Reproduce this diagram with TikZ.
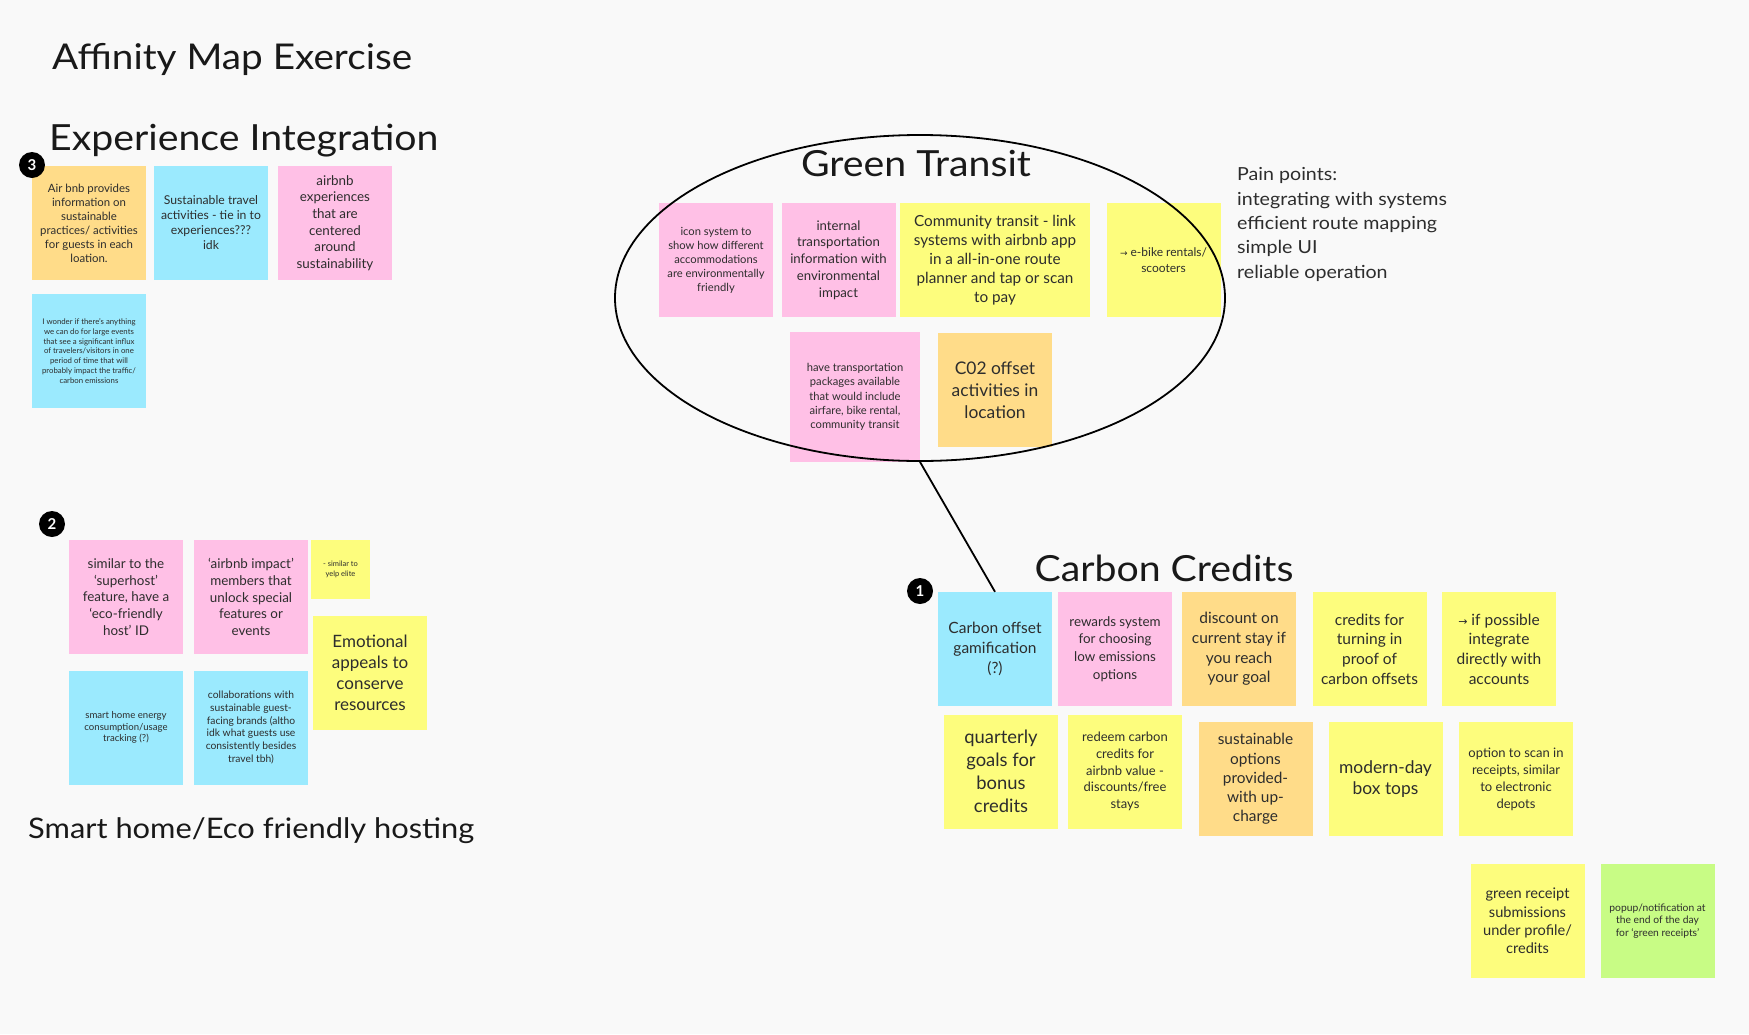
\documentclass[tikz,border=0pt]{standalone}
\usepackage{fontspec}
\setmainfont{Lato}
\newfontfamily\headfont{Lato}[FakeStretch=1.09]
\newfontfamily\arrowfont{DejaVu Sans}
\usetikzlibrary{shapes.geometric}

\definecolor{canvas}{RGB}{249,249,249}
\definecolor{stickyorange}{RGB}{255,220,137}
\definecolor{stickycyan}{RGB}{155,234,254}
\definecolor{stickypink}{RGB}{255,192,230}
\definecolor{stickyyellow}{RGB}{253,253,125}
\definecolor{stickygreen}{RGB}{200,252,133}
\definecolor{inktext}{RGB}{45,45,45}
\definecolor{titletext}{RGB}{25,25,25}

\newcommand{\notesize}[2]{\fontsize{#1}{#2}\selectfont}

\begin{document}
\begin{tikzpicture}[x=1pt, y=-1pt,
	note/.style={minimum width=114pt, minimum height=114pt, inner sep=1pt, align=center, text=inktext},
	orange note/.style={note, fill=stickyorange},
	cyan note/.style={note, fill=stickycyan},
	pink note/.style={note, fill=stickypink},
	yellow note/.style={note, fill=stickyyellow},
	green note/.style={note, fill=stickygreen},
	heading/.style={text=titletext, inner sep=0pt},
	badge/.style={circle, fill=black, text=white, minimum size=26pt, inner sep=0pt, font=\bfseries\notesize{15}{15}}]

	\fill[canvas] (0,0) rectangle (1749,1034);

	% titles
	\node[heading, anchor=base west, font=\headfont\notesize{35.5}{40}] (maptitle) at (52,69) {Affinity Map Exercise};
	\node[heading, anchor=base west, font=\headfont\notesize{36}{42}] (expTitle) at (49,150) {Experience Integration};
	\node[heading, anchor=base, font=\headfont\notesize{36}{42}] (transitTitle) at (916,176) {Green Transit};
	\node[heading, anchor=base, font=\headfont\notesize{36}{42}] (creditTitle) at (1164,581) {Carbon Credits};
	\node[heading, anchor=base west, font=\headfont\notesize{28.3}{34}] (hostTitle) at (28,838) {Smart home/Eco friendly hosting};
	\node[heading, anchor=north west, align=left, text=inktext, font=\headfont\notesize{18}{24.3}] (pain) at (1237,167.5)
		{Pain points:\\integrating with systems\\efficient route mapping\\simple UI\\reliable operation};

	% Experience Integration
	\node[orange note, font=\notesize{11.4}{14}] (airInfo) at (89,223) {Air bnb provides\\information on\\sustainable\\practices/ activities\\for guests in each\\loation.};
	\node[cyan note, font=\notesize{12.2}{15}] (travelAct) at (211,223) {Sustainable travel\\activities - tie in to\\experiences???\\idk};
	\node[pink note, font=\notesize{13.4}{16.7}] (airExp) at (335,223) {airbnb\\experiences\\that are\\centered\\around\\sustainability};
	\node[cyan note, font=\notesize{7.8}{9.7}] (wonder) at (89,351) {I wonder if there's anything\\we can do for large events\\that see a significant influx\\of travelers/visitors in one\\period of time that will\\probably impact the traffic/\\carbon emissions};

	% Smart home / eco friendly hosting
	\node[pink note, font=\notesize{13.4}{16.8}] (superhost) at (126,597) {similar to the\\`superhost'\\feature, have a\\`eco-friendly\\host' ID};
	\node[pink note, font=\notesize{13.4}{16.8}] (impact) at (251,597) {`airbnb impact'\\members that\\unlock special\\features or\\events};
	\node[yellow note, minimum width=59pt, minimum height=59pt, font=\notesize{7.5}{10}] (yelp) at (340.5,569.5) {- similar to\\yelp elite};
	\node[yellow note, font=\notesize{17}{21}] (appeals) at (370,672.5) {Emotional\\appeals to\\conserve\\resources};
	\node[cyan note, font=\notesize{9.6}{11.7}] (energy) at (126,727.5) {smart home energy\\consumption/usage\\tracking (?)};
	\node[cyan note, font=\notesize{10.3}{12.7}] (collab) at (251,727.5) {collaborations with\\sustainable guest-\\facing brands (altho\\idk what guests use\\consistently besides\\travel tbh)};

	% Green Transit
	\node[pink note, font=\notesize{11.2}{14}] (icons) at (716,260) {icon system to\\show how different\\accommodations\\are environmentally\\friendly};
	\node[pink note, font=\notesize{13.2}{16.8}] (internal) at (838.5,260) {internal\\transportation\\information with\\environmental\\impact};
	\node[yellow note, minimum width=190pt, font=\notesize{15.3}{19}] (community) at (995,260) {Community transit - link\\systems with airbnb app\\in a all-in-one route\\planner and tap or scan\\to pay};
	\node[yellow note, font=\notesize{12}{15.7}] (ebike) at (1163.5,260) {{\arrowfont\notesize{9}{15.7}→} e-bike rentals/\\scooters};
	\node[pink note, minimum width=130pt, minimum height=130pt, font=\notesize{11.2}{14.3}] (packages) at (855,397) {have transportation\\packages available\\that would include\\airfare, bike rental,\\community transit};
	\node[orange note, font=\notesize{17.4}{21.7}] (offsetAct) at (995,390) {C02 offset\\activities in\\location};
	\node[draw, ellipse, line width=1.8pt, minimum width=610pt, minimum height=326pt, inner sep=0pt] (transit) at (920,298) {};

	% Carbon Credits
	\node[cyan note, font=\notesize{15.5}{20}] (gamif) at (995,649) {Carbon offset\\gamification\\(?)};
	\node[pink note, font=\notesize{13.4}{17.7}] (rewards) at (1115,649) {rewards system\\for choosing\\low emissions\\options};
	\node[orange note, font=\notesize{15.5}{19.6}] (discount) at (1239,649) {discount on\\current stay if\\you reach\\your goal};
	\node[yellow note, font=\notesize{15.5}{19.6}] (turning) at (1369.5,649) {credits for\\turning in\\proof of\\carbon offsets};
	\node[yellow note, font=\notesize{15.5}{19.6}] (accounts) at (1499,649) {{\arrowfont\notesize{11}{19.6}→} if possible\\integrate\\directly with\\accounts};
	\node[yellow note, font=\notesize{18.4}{23}] (quarterly) at (1001,771.5) {quarterly\\goals for\\bonus\\credits};
	\node[yellow note, font=\notesize{13}{16.7}] (redeem) at (1125,771.5) {redeem carbon\\credits for\\airbnb value -\\discounts/free\\stays};
	\node[orange note, font=\notesize{15.4}{19.2}] (upcharge) at (1255.5,779) {sustainable\\options\\provided-\\with up-\\charge};
	\node[yellow note, font=\notesize{17.4}{21.7}] (boxtops) at (1385.5,779) {modern-day\\box tops};
	\node[yellow note, font=\notesize{13}{17}] (scan) at (1516,779) {option to scan in\\receipts, similar\\to electronic\\depots};
	\node[yellow note, font=\notesize{14.6}{18.3}] (receipt) at (1527.5,921) {green receipt\\submissions\\under profile/\\credits};
	\node[green note, font=\notesize{10.3}{12.7}] (popup) at (1657.5,921) {popup/notification at\\the end of the day\\for `green receipts'};

	% connector and numbered badges
	\draw[line width=1.8pt] (transit.south) -- (gamif.north);
	\node[badge] (badgeOne) at (920,591) {1};
	\node[badge] (badgeTwo) at (52,524) {2};
	\node[badge] (badgeThree) at (32,165) {3};

	\useasboundingbox (0,0) rectangle (1749,1034);
\end{tikzpicture}
\end{document}
